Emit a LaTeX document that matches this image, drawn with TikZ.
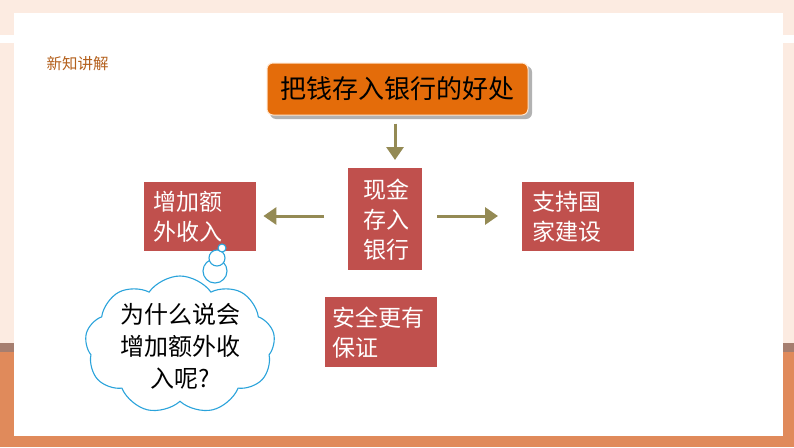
\documentclass[tikz,border=0pt]{standalone}
\usepackage{fontspec}
\setmainfont{Noto Sans CJK SC}
\usetikzlibrary{shapes.symbols,arrows.meta}
\definecolor{peach}{HTML}{FCEBE1}
\definecolor{bandgray}{HTML}{A67E6F}
\definecolor{bandorange}{HTML}{E08A5B}
\definecolor{titleorange}{HTML}{E46C0A}
\definecolor{boxred}{HTML}{C0504D}
\definecolor{olive}{HTML}{948A54}
\definecolor{cloudblue}{HTML}{2AA3DB}
\definecolor{headbrown}{HTML}{B4601C}
\begin{document}
\begin{tikzpicture}[x=1pt, y=-1pt,
	redbox/.style={fill=boxred, text=white, anchor=north west, align=left, inner sep=0pt,
		font=\fontsize{23}{30}\selectfont},
	flowarrow/.style={olive, line width=3pt, -{Triangle[width=17pt, length=13pt]}},
	puff/.style={draw=cloudblue, fill=white, line width=1.1pt}]
	\useasboundingbox (0,0) rectangle (794,447);
	% slide background
	\fill[peach] (0,0) rectangle (794,343);
	\fill[white] (0,35) rectangle (794,43);
	\fill[bandgray] (0,343) rectangle (794,352);
	\fill[bandorange] (0,352) rectangle (794,447);
	\fill[white] (14,13) rectangle (783,436);
	\node[text=headbrown, font=\fontsize{15.5}{15.5}\selectfont] (head) at (77.5,64) {新知讲解};
	% title
	\fill[gray!60, rounded corners=6pt] (270,66) rectangle (532,119);
	\node[fill=titleorange, draw=orange!20, line width=1pt, rounded corners=6pt,
		minimum width=261pt, minimum height=52pt, inner sep=0pt,
		font=\fontsize{26}{26}\selectfont] (title) at (397.5,89) {把钱存入银行的好处};
	% boxes
	\node[redbox, minimum width=74pt, minimum height=102pt, text width=64pt] (cash) at (348,168) {\hspace*{10pt}现金\\\hspace*{10pt}存入\\\hspace*{10pt}银行};
	\node[redbox, minimum width=112pt, minimum height=69pt, text width=112pt] (income) at (144,182) {\hspace*{9pt}增加额\\\hspace*{9pt}外收入};
	\node[redbox, minimum width=112pt, minimum height=69pt, text width=112pt] (nation) at (522,182) {\hspace*{10pt}支持国\\\hspace*{10pt}家建设};
	\node[redbox, minimum width=112pt, minimum height=70pt, text width=112pt] (safe) at (325,297) {\hspace*{7pt}安全更有\\\hspace*{7pt}保证};
	% arrows
	\draw[flowarrow, shorten <=8pt, shorten >=8pt] (title.south -| 395,0) -- (cash.north -| 395,0);
	\draw[flowarrow, shorten <=24pt, shorten >=7pt] (cash.west |- 0,216) -- (income.east |- 0,216);
	\draw[flowarrow, shorten <=15pt, shorten >=24pt] (cash.east |- 0,216) -- (nation.west |- 0,216);
	% thought cloud
	\node[puff, circle, minimum size=24pt, inner sep=0pt] (bubbleC) at (215,271) {};
	\node[puff, circle, minimum size=16pt, inner sep=0pt] (bubbleB) at (217,258) {};
	\node[puff, circle, minimum size=8pt, inner sep=0pt] (bubbleA) at (222,248) {};
	\node[puff, cloud, cloud puffs=9, cloud puff arc=110, aspect=1.4,
		minimum width=190pt, minimum height=138pt, inner sep=0pt] (cloud) at (180,345) {};
	\node[align=center, font=\fontsize{24}{32}\selectfont] (question) at (180,346) {为什么说会\\增加额外收\\入呢?};
\end{tikzpicture}
\end{document}
